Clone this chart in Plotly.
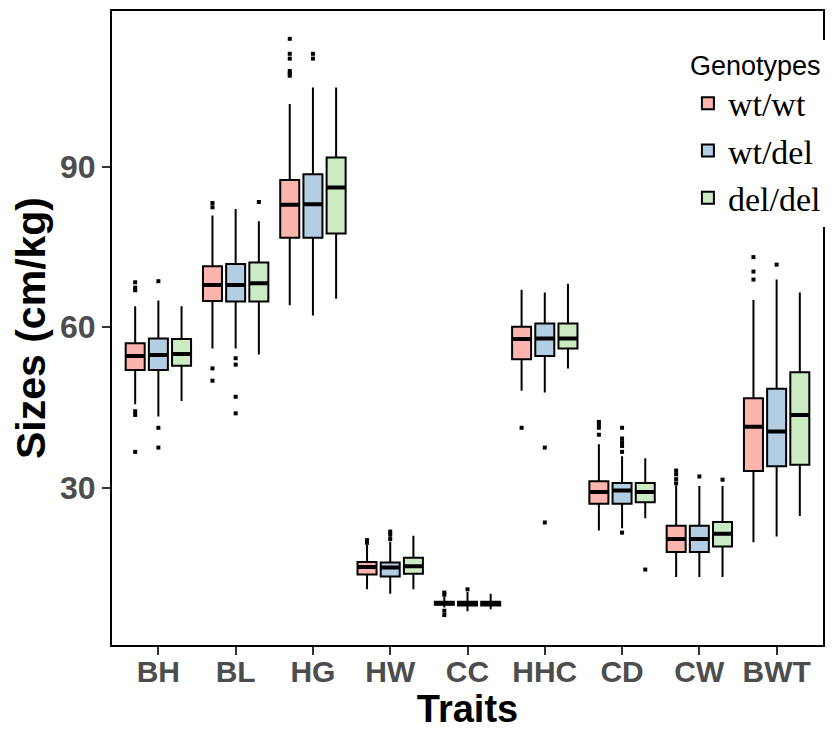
import plotly.graph_objects as go

traits = ["BH", "BL", "HG", "HW", "CC", "HHC", "CD", "CW", "BWT"]
genotypes = ["wt/wt", "wt/del", "del/del"]
colors = ["#fbb4ae", "#b3cde3", "#ccebc5"]

# per genotype: lower whisker, q1, median, q3, upper whisker (per trait)
wtwt_lower = [45.6, 56.0, 64.1, 11.0, 7.6, 48.1, 22.0, 13.3, 19.8]
wtwt_q1 = [52.0, 64.9, 76.7, 13.8, 8.1, 54.0, 27.0, 18.0, 33.1]
wtwt_med = [54.6, 67.9, 82.9, 15.2, 8.4, 57.8, 29.2, 20.4, 41.4]
wtwt_q3 = [57.0, 71.4, 87.5, 16.1, 8.7, 60.1, 31.2, 22.9, 46.7]
wtwt_upper = [63.9, 80.9, 101.7, 19.3, 9.6, 67.0, 38.1, 30.4, 65.1]
wtwt_out = [[68.4, 67.4, 66.9, 44.3, 43.6, 36.7], [83.2, 82.4, 52.3, 50.0],
            [113.9, 111.1, 110.2, 107.9, 107.4, 107.0], [20.2, 19.7],
            [10.4, 10.0, 7.0, 6.2], [41.2], [42.3, 41.8, 41.2, 39.9],
            [33.2, 32.5, 31.6, 30.8], [73.1, 70.4, 68.9]]

wtdel_lower = [43.3, 56.0, 62.2, 10.2, 6.9, 47.8, 22.4, 13.3, 20.9]
wtdel_q1 = [52.0, 64.8, 76.7, 13.4, 8.0, 54.6, 27.0, 18.0, 34.0]
wtdel_med = [54.8, 67.9, 83.0, 15.1, 8.4, 57.9, 29.5, 20.4, 40.5]
wtdel_q3 = [57.9, 71.8, 88.6, 16.0, 8.7, 60.7, 30.9, 22.9, 48.5]
wtdel_upper = [65.0, 82.1, 104.8, 19.9, 10.5, 66.5, 35.9, 30.3, 68.9]
wtdel_out = [[68.6, 41.2, 37.5], [54.2, 53.0, 47.0, 43.9], [111.1, 110.2],
             [21.8, 21.2, 20.4], [11.0], [37.5, 23.5],
             [41.2, 39.2, 38.5, 37.8, 36.7, 21.6], [32.1], [71.7]]

deldel_lower = [46.2, 54.9, 65.3, 11.0, 7.3, 52.3, 24.3, 13.3, 24.7]
deldel_q1 = [52.8, 64.8, 77.5, 13.9, 8.0, 56.0, 27.3, 19.0, 34.3]
deldel_med = [55.0, 68.2, 86.1, 15.3, 8.4, 57.9, 29.2, 21.4, 43.6]
deldel_q3 = [57.8, 72.1, 91.7, 16.9, 8.7, 60.7, 30.9, 23.6, 51.6]
deldel_upper = [63.9, 79.8, 104.8, 21.0, 10.2, 68.1, 35.5, 30.3, 66.5]
deldel_out = [[], [83.4], [], [], [], [], [14.7], [31.5], []]

y_ticks = [30, 60, 90]

stats = [
    (wtwt_lower, wtwt_q1, wtwt_med, wtwt_q3, wtwt_upper, wtwt_out),
    (wtdel_lower, wtdel_q1, wtdel_med, wtdel_q3, wtdel_upper, wtdel_out),
    (deldel_lower, deldel_q1, deldel_med, deldel_q3, deldel_upper, deldel_out),
]

fig = go.Figure()
for k, (name, col, (lo, q1, med, q3, up, out)) in enumerate(zip(genotypes, colors, stats)):
    # sample points per box: the median (hidden, inside the box) plus outliers
    samples = [[m] + list(o) for m, o in zip(med, out)]
    fig.add_trace(go.Box(
        name=name,
        x=traits,
        y=samples,
        q1=q1, median=med, q3=q3,
        lowerfence=lo, upperfence=up,
        offsetgroup=str(k), alignmentgroup="a",
        fillcolor=col,
        line=dict(color="black", width=2),
        whiskerwidth=0,
        boxpoints="outliers",
        jitter=0,
        pointpos=0,
        marker=dict(color="black", symbol="square", size=4,
                    line=dict(width=0)),
    ))
    # thicker median bar (ggplot style), drawn as a flat box at the median
    fig.add_trace(go.Box(
        name=name,
        x=traits,
        q1=med, median=med, q3=med,
        lowerfence=med, upperfence=med,
        offsetgroup=str(k), alignmentgroup="a",
        fillcolor="rgba(0,0,0,0)",
        line=dict(color="black", width=4),
        whiskerwidth=0,
        boxpoints=False,
        showlegend=False,
        hoverinfo="skip",
    ))

# the page body has an 8px margin, so the figure is kept smaller than the window
fig.update_layout(
    template="none",
    width=820, height=724,
    margin=dict(l=104, r=2, t=3, b=87),
    paper_bgcolor="white",
    plot_bgcolor="white",
    boxmode="group",
    boxgap=0.1,
    boxgroupgap=0.18,
    showlegend=True,
    legend=dict(
        title=dict(text="Genotypes",
                   font=dict(family="Liberation Sans", size=27, color="black")),
        font=dict(family="Liberation Serif", size=34, color="black"),
        x=0.81, xanchor="left",
        y=0.955, yanchor="top",
        bgcolor="white",
        borderwidth=0,
        tracegroupgap=0,
    ),
)

fig.update_xaxes(
    automargin=False,
    type="category",
    categoryorder="array", categoryarray=traits,
    range=[-0.6, 8.6],
    showline=True, linecolor="black", linewidth=2, mirror=True,
    ticks="outside", ticklen=8, tickwidth=2, tickcolor="#333333",
    ticklabelstandoff=-9,
    showgrid=False, zeroline=False,
    tickfont=dict(family="Liberation Sans", size=30, color="#4d4d4d", weight="bold"),
    title=dict(text="Traits", standoff=8,
               font=dict(family="Liberation Sans", size=38, color="black", weight="bold")),
)
fig.update_yaxes(
    automargin=False,
    range=[0.6, 119.1],
    tickvals=y_ticks,
    showline=True, linecolor="black", linewidth=2, mirror=True,
    ticks="outside", ticklen=8, tickwidth=2, tickcolor="#333333",
    showgrid=False, zeroline=False,
    tickfont=dict(family="Liberation Sans", size=32, color="#4d4d4d", weight="bold"),
    title=dict(text="Sizes (cm/kg)", standoff=2,
               font=dict(family="Liberation Sans", size=41, color="black", weight="bold")),
)

fig.write_html("out.html")
